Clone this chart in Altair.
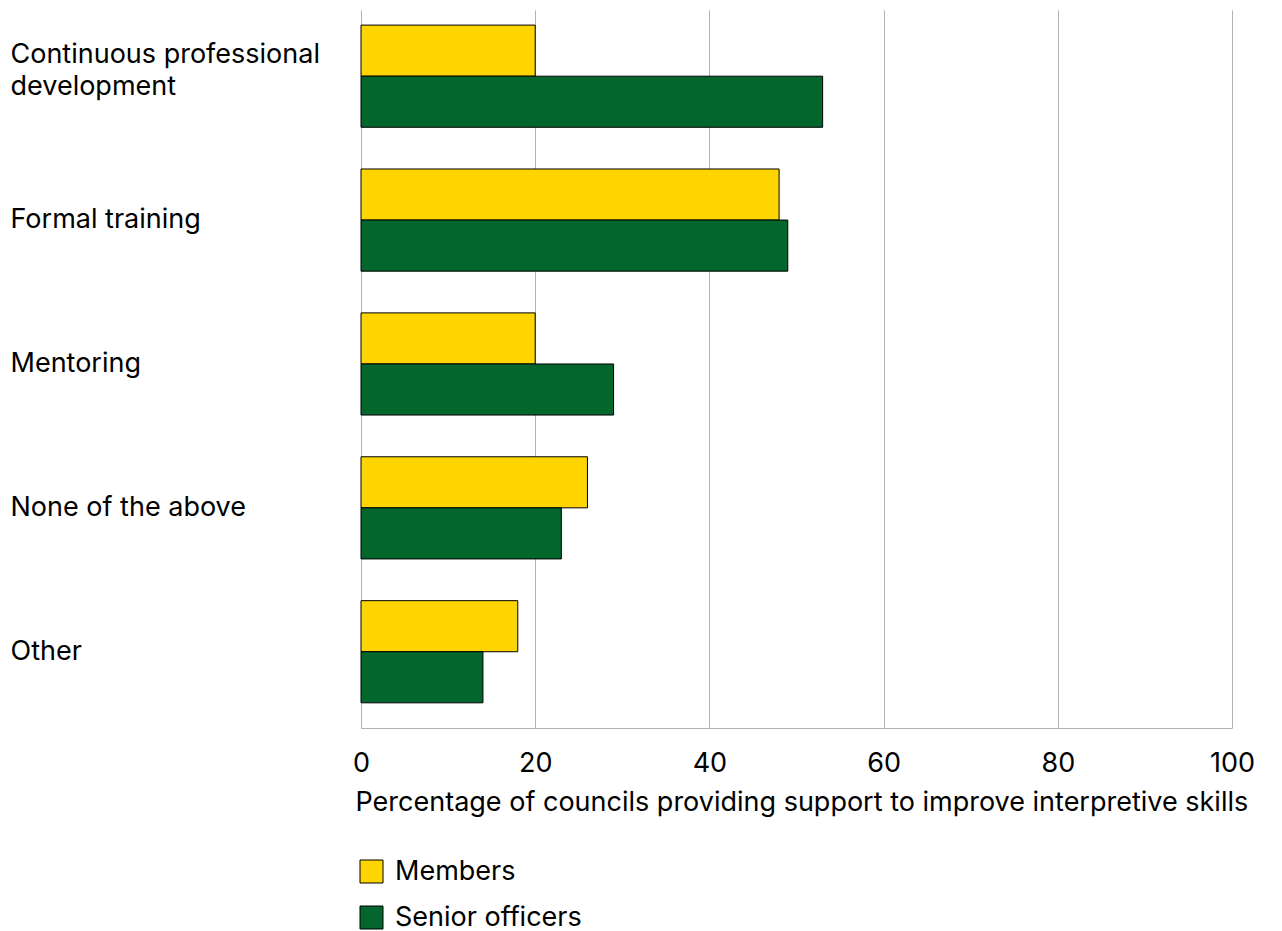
import altair as alt
import pandas as pd

categories = ["Continuous professional development", "Formal training", "Mentoring",
              "None of the above", "Other"]
members = [20, 48, 20, 26, 18]
senior = [53, 49, 29, 23, 14]
series = ["Members", "Senior officers"]
colors = ["#FED500", "#02662D"]

rows = []
for c, m, s in zip(categories, members, senior):
    rows.append({"category": c, "series": series[0], "value": m})
    rows.append({"category": c, "series": series[1], "value": s})
df = pd.DataFrame(rows)

FONT = "Inter"
FS = 27

chart = alt.Chart(df).mark_bar(stroke="black", strokeWidth=1).encode(
    x=alt.X("value:Q", scale=alt.Scale(domain=[0, 100]),
            axis=alt.Axis(values=[0, 20, 40, 60, 80, 100],
                          title="Percentage of councils providing support to improve interpretive skills",
                          ticks=False, labelPadding=22, titlePadding=13, labelFlush=False,
                          titleAnchor="start", titleX=-6,
                          labelFontSize=FS, titleFontSize=FS, titleFontWeight="normal",
                          labelColor="black", titleColor="black",
                          domainColor="#b3b3b3", gridColor="#b3b3b3",
                          labelFont=FONT, titleFont=FONT)),
    y=alt.Y("category:N", sort=categories,
            scale=alt.Scale(paddingInner=0.29, paddingOuter=0.14, align=0.375),
            axis=alt.Axis(title=None, ticks=False, domain=False, labelAlign="left",
                          labelPadding=351, labelFontSize=FS, labelColor="black",
                          labelFont=FONT, labelLineHeight=32, labelLimit=400,
                          labelOffset={"condition": {"test": "datum.label == 'Continuous professional development'", "value": -21},
                                       "value": 0},
                          labelExpr="datum.label == 'Continuous professional development' ? ['Continuous professional', 'development'] : datum.label")),
    yOffset=alt.YOffset("series:N", sort=series, scale=alt.Scale(paddingInner=0)),
    color=alt.Color("series:N", sort=series,
                    scale=alt.Scale(domain=series, range=colors),
                    legend=alt.Legend(title=None, orient="none", legendX=-3, legendY=848,
                                      symbolType="square", symbolSize=529,
                                      symbolStrokeColor="black", symbolStrokeWidth=1,
                                      labelFontSize=FS, labelColor="black", labelFont=FONT,
                                      labelLimit=400, rowPadding=18, labelOffset=10)),
).properties(
    width=871, height=718,
    padding={"left": 2, "top": 2, "right": 10, "bottom": 5},
).configure_view(stroke=None)

chart.save("out.html", embed_options={"renderer": "svg", "actions": False})
